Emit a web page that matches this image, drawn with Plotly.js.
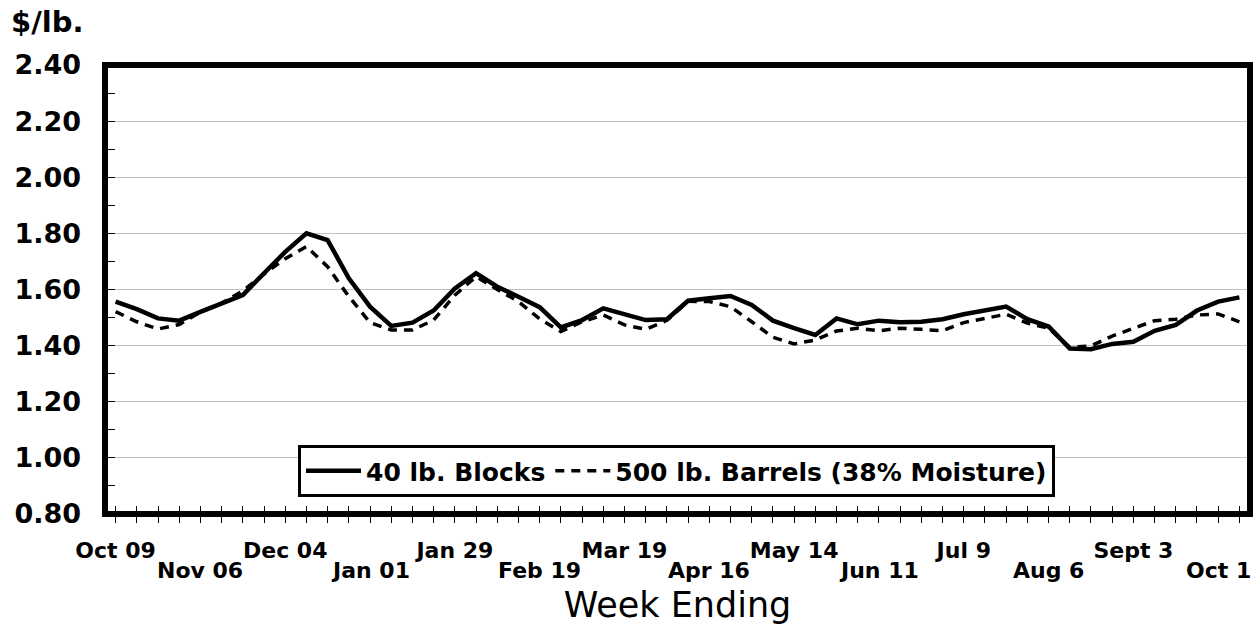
<!DOCTYPE html>
<html><head><meta charset="utf-8">
<script src="https://cdn.plot.ly/plotly-3.0.1.min.js"></script>
<style>body{margin:0;background:#fff}#chart{width:1260px;height:625px}</style>
</head><body><div id="chart"></div>
<script>
// Tick labels, one every 4 weeks
const tickLabels = ["Oct 09","Nov 06","Dec 04","Jan 01","Jan 29","Feb 19","Mar 19","Apr 16","May 14","Jun 11","Jul 9","Aug 6","Sept 3","Oct 1"];
const labelStep = 4;

// $/lb. weekly prices
const blocks = [1.557,1.530,1.497,1.489,1.520,1.551,1.580,1.658,1.734,1.800,1.776,1.640,1.539,1.470,
  1.482,1.525,1.604,1.658,1.610,1.574,1.537,1.465,1.491,1.533,1.513,1.491,1.494,
  1.560,1.569,1.577,1.545,1.489,1.462,1.438,1.497,1.476,1.489,1.483,1.485,1.494,
  1.512,1.527,1.539,1.494,1.468,1.390,1.387,1.406,1.414,1.453,1.474,1.525,1.557,1.572];
const barrels = [1.521,1.485,1.459,1.475,1.520,1.551,1.595,1.655,1.710,1.753,1.681,1.575,1.482,1.456,
  1.456,1.491,1.580,1.646,1.600,1.557,1.495,1.450,1.485,1.509,1.474,1.458,1.490,
  1.558,1.557,1.539,1.485,1.430,1.406,1.420,1.452,1.462,1.453,1.462,1.458,1.453,
  1.482,1.497,1.512,1.480,1.462,1.394,1.399,1.434,1.462,1.489,1.494,1.509,1.513,1.485];

const seriesNames = ["40 lb. Blocks", "500 lb. Barrels (38% Moisture)"];

const weeks = blocks.map((_, i) => i);
const labelIdx = tickLabels.map((_, k) => k * labelStep);
// top-row labels on the axis, bottom-row labels as annotations
const tickText = weeks.map(i => {
  const k = labelIdx.indexOf(i);
  return (k >= 0 && k % 2 === 0) ? tickLabels[k] : "";
});

const FONT = "DejaVu Sans";
const traces = [
  {x: weeks, y: blocks, name: seriesNames[0], type: "scatter", mode: "lines",
   line: {color: "#000", width: 4.5}},
  {x: weeks, y: barrels, name: seriesNames[1], type: "scatter", mode: "lines",
   line: {color: "#000", width: 3.5, dash: "9px,7px"}},
  {x: [], y: [], xaxis: "x2", showlegend: false, hoverinfo: "skip"}
];

const annotations = tickLabels.map((t, k) => k % 2 === 1 ? {
  text: t, x: labelIdx[k], xref: "x", y: -0.125, yref: "paper",
  xanchor: "center", yanchor: "middle", showarrow: false,
  font: {family: FONT, size: 22, weight: "bold", color: "#000"}
} : null).filter(a => a);

const layout = {
  width: 1260, height: 625,
  margin: {l: 105, r: 10, t: 65, b: 111},
  paper_bgcolor: "#fff", plot_bgcolor: "#fff",
  showlegend: true,
  title: {text: "$/lb.", x: 11/1260, xref: "container", xanchor: "left",
          y: 1 - 22/625, yref: "container", yanchor: "middle",
          font: {family: FONT, size: 29, weight: "bold", color: "#000"}},
  xaxis: {
    range: [-0.5, 53.5], tickmode: "array", tickvals: weeks, ticktext: tickText,
    ticks: "outside", ticklen: 8, tickwidth: 1, tickcolor: "#000",
    showgrid: false, zeroline: false, showline: false,
    ticklabelstandoff: 9,
    tickfont: {family: FONT, size: 22, weight: "bold", color: "#000"},
    title: {text: "Week Ending", standoff: 38,
            font: {family: FONT, size: 35, color: "#000"}}
  },
  xaxis2: {
    overlaying: "x", matches: "x", anchor: "y", side: "bottom",
    range: [-0.5, 53.5], tickmode: "array", tickvals: weeks,
    ticks: "inside", ticklen: 8, tickwidth: 1, tickcolor: "#000",
    showticklabels: false, showgrid: false, zeroline: false, showline: false
  },
  yaxis: {
    range: [0.8, 2.4], dtick: 0.2, tick0: 0.8, tickformat: ".2f",
    ticks: "inside", ticklen: 10, tickwidth: 1, tickcolor: "#000",
    minor: {dtick: 0.1, ticks: "inside", ticklen: 10, tickwidth: 1, tickcolor: "#000", showgrid: false},
    showgrid: true, gridcolor: "#c0c0c0", gridwidth: 1,
    zeroline: false, showline: false,
    ticklabelstandoff: 23,
    tickfont: {family: FONT, size: 27, weight: "bold", color: "#000"}
  },
  legend: {
    orientation: "h", x: (298-105)/1145, xanchor: "left", y: (514-445)/449, yanchor: "top",
    bgcolor: "#fff", bordercolor: "#000", borderwidth: 3,
    itemwidth: 55,
    font: {family: FONT, size: 25, weight: "bold", color: "#000"}
  },
  shapes: [{type: "rect", xref: "paper", yref: "paper", x0: 0, x1: 1, y0: 0, y1: 1,
            line: {color: "#000", width: 6}, layer: "above"}],
  annotations: annotations
};

Plotly.newPlot("chart", traces, layout, {staticPlot: true});
</script>
</body></html>
